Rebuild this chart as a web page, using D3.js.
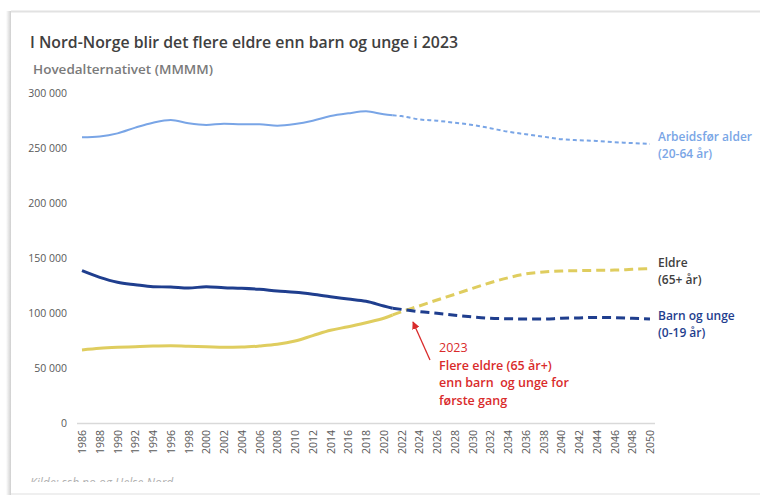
<!DOCTYPE html>
<meta charset="utf-8">
<title>Nord-Norge befolkning</title>
<style>
html, body { margin: 0; padding: 0; background: #fff; overflow: hidden; }
text { font-family: "Open Sans", "Noto Sans", sans-serif; }
.tick text { fill: #595959; font-size: 10.5px; }
</style>
<svg width="760" height="495"></svg>
<script src="https://d3js.org/d3.v7.min.js"></script>
<script>

// historical years (solid) and projection years (dashed)
var histYears = [1986,1988,1990,1992,1994,1996,1998,2000,2002,2004,2006,2008,2010,2012,2014,2016,2018,2020,2021];
var projYears = [2021,2022,2024,2026,2028,2030,2032,2034,2036,2038,2040,2042,2044,2046,2048,2050];

// Arbeidsfør alder (20-64 år)
var arbHist = [259700,260500,263300,268500,273000,275500,272500,271000,272000,271500,271500,270300,271800,274800,279000,281500,283300,280600,279700];
var arbProj = [279700,279000,276000,274800,273000,271000,268000,264800,262500,260300,258000,257000,256400,255200,254500,253600];

// Barn og unge (0-19 år)
var barnHist = [138500,132400,127900,125700,123900,123600,122700,123900,123000,122500,121500,120000,118800,117000,114800,112700,110600,106400,104300];
var barnProj = [104300,103300,101200,99700,97900,96400,95200,94800,94500,94500,95200,95500,96000,95800,95200,94500];

// Eldre (65+ år)
var eldreHist = [66400,67900,68800,69400,70000,70300,69700,69400,68800,69000,70000,71500,74500,79400,84300,87500,91200,95200,98200];
var eldreProj = [98200,101200,106400,111800,117000,122400,127500,132000,135500,137300,138200,138500,138800,139000,139700,140300];

var xTicks = d3.range(1986, 2051, 2);
var yTicks = [0, 50000, 100000, 150000, 200000, 250000, 300000];

var svg = d3.select("svg");

// card frame with soft left shadow
var defs = svg.append("defs");
defs.append("clipPath").attr("id", "card")
  .append("rect").attr("x", 0).attr("y", 0).attr("width", 760).attr("height", 482);
var grad = defs.append("linearGradient").attr("id", "shadow");
grad.append("stop").attr("offset", "0").attr("stop-color", "#fff");
grad.append("stop").attr("offset", "1").attr("stop-color", "#cfcfcf");
svg.append("rect").attr("x", 6).attr("y", 11).attr("width", 5).attr("height", 484).attr("fill", "url(#shadow)");
svg.append("line").attr("x1", 11).attr("x2", 760).attr("y1", 11.5).attr("y2", 11.5)
  .attr("stroke", "#e2e2e2").attr("stroke-width", 2);
svg.append("line").attr("x1", 11).attr("x2", 760).attr("y1", 494).attr("y2", 494)
  .attr("stroke", "#eaeaea").attr("stroke-width", 1.5);

var x = d3.scaleLinear().domain([1986, 2050]).range([82, 650]);
var y = d3.scaleLinear().domain([0, 300000]).range([423, 93]);

// title
svg.append("text").attr("x", 30).attr("y", 48)
  .attr("textLength", 428).attr("lengthAdjust", "spacingAndGlyphs")
  .style("font-size", "15.5px").style("font-weight", 600).style("fill", "#404040")
  .text("I Nord-Norge blir det flere eldre enn barn og unge i 2023");
svg.append("text").attr("x", 33).attr("y", 74)
  .attr("textLength", 180).attr("lengthAdjust", "spacingAndGlyphs")
  .style("font-size", "13px").style("font-weight", 600).style("fill", "#7a7a7a")
  .text("Hovedalternativet (MMMM)");

// y axis (labels only)
var yAxis = svg.append("g").attr("transform", "translate(67,0)")
  .call(d3.axisLeft(y).tickValues(yTicks).tickSize(0).tickPadding(0)
    .tickFormat(function(d) { return d === 0 ? "0" : d3.format(",")(d).replace(/,/g, " "); }));
yAxis.select(".domain").remove();

// x axis
var xAxis = svg.append("g").attr("transform", "translate(0,423)")
  .call(d3.axisBottom(x).tickValues(xTicks).tickSize(0).tickFormat(d3.format("d")));
xAxis.select(".domain").remove();
xAxis.selectAll("text")
  .attr("transform", "rotate(-90)")
  .attr("x", -7).attr("y", 0).attr("dy", "0.35em")
  .style("text-anchor", "end");
svg.append("line").attr("x1", 77).attr("x2", 655).attr("y1", 423.5).attr("y2", 423.5)
  .attr("stroke", "#d9d9d9").attr("stroke-width", 1.5);

var line = d3.line()
  .x(function(d) { return x(d[0]); })
  .y(function(d) { return y(d[1]); })
  .curve(d3.curveMonotoneX);

function zip(a, b) { return a.map(function(v, i) { return [v, b[i]]; }); }

var series = [
  { hist: arbHist, proj: arbProj, color: "#79a5e6", width: 2, dash: "4,3" },
  { hist: eldreHist, proj: eldreProj, color: "#dfcd5f", width: 3, dash: "9,5" },
  { hist: barnHist, proj: barnProj, color: "#1f3e8e", width: 3, dash: "9,5" }
];

series.forEach(function(s) {
  svg.append("path").datum(zip(histYears, s.hist))
    .attr("d", line).attr("fill", "none")
    .attr("stroke", s.color).attr("stroke-width", s.width);
  svg.append("path").datum(zip(projYears, s.proj))
    .attr("d", line).attr("fill", "none")
    .attr("stroke", s.color).attr("stroke-width", s.width)
    .attr("stroke-dasharray", s.dash);
});

// series labels
var labels = [
  { lines: ["Arbeidsfør alder", "(20-64 år)"], y: 141, color: "#7aa6e6" },
  { lines: ["Eldre", "(65+ år)"], y: 267, color: "#404040" },
  { lines: ["Barn og unge", "(0-19 år)"], y: 320, color: "#1f3e8e" }
];
labels.forEach(function(l) {
  var t = svg.append("text").attr("x", 658).attr("y", l.y)
    .style("font-size", "12px").style("font-weight", 600).style("fill", l.color);
  l.lines.forEach(function(s, i) {
    t.append("tspan").attr("x", 658).attr("dy", i ? 17 : 0).text(s);
  });
});

// annotation
var red = "#d92b2b";
defs.append("marker").attr("id", "arrow").attr("viewBox", "0 0 10 10")
  .attr("refX", 9).attr("refY", 5).attr("markerWidth", 6).attr("markerHeight", 6)
  .attr("orient", "auto")
  .append("path").attr("d", "M0,0L10,5L0,10z").attr("fill", red);
svg.append("line").attr("x1", 430).attr("y1", 360).attr("x2", 413).attr("y2", 322)
  .attr("stroke", red).attr("stroke-width", 1.3).attr("marker-end", "url(#arrow)");
var ann = ["2023", "Flere eldre (65 år+)", "enn barn  og unge for", "første gang"];
var at = svg.append("text").attr("x", 439).attr("y", 352)
  .style("font-size", "12.5px").style("fill", red).attr("xml:space", "preserve");
ann.forEach(function(s, i) {
  at.append("tspan").attr("x", 439).attr("dy", i ? 17.5 : 0)
    .style("font-weight", i ? 600 : 400).text(s);
});

// source (partly cut off by the card edge)
svg.append("g").attr("clip-path", "url(#card)")
  .append("text").attr("x", 30).attr("y", 487)
  .style("font-size", "12px").style("font-style", "italic").style("fill", "#b0b0b0")
  .text("Kilde: ssb.no og Helse Nord");

</script>
